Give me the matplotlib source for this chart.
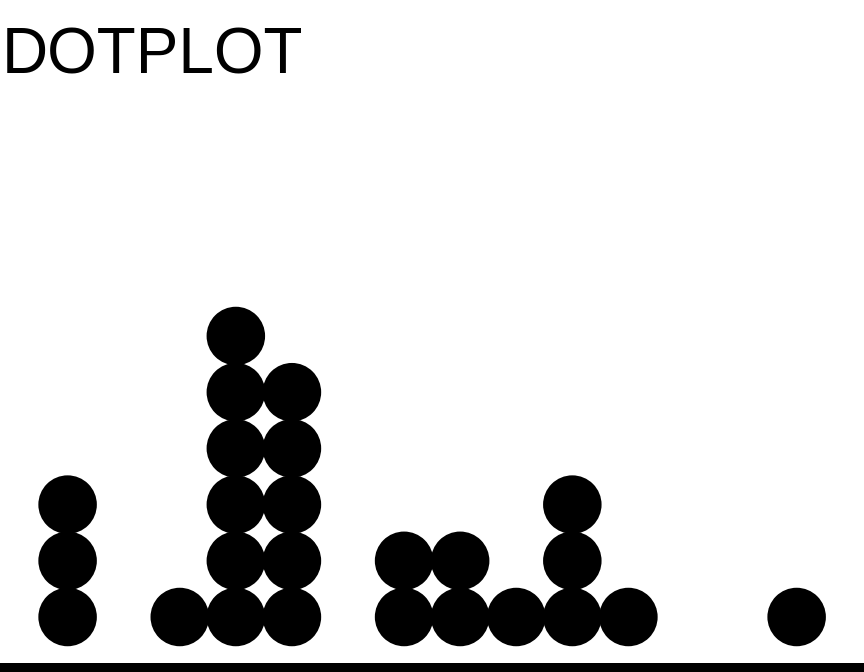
import matplotlib
matplotlib.use("Agg")
import matplotlib.pyplot as plt

# dot plot data: bin position and number of dots stacked in it
bins = [0, 2, 3, 4, 6, 7, 8, 9, 10, 13]
counts = [3, 1, 6, 5, 2, 2, 1, 3, 1, 1]

xs = []
ys = []
for b, c in zip(bins, counts):
    for k in range(1, c + 1):
        xs.append(b)
        ys.append(k)

fig = plt.figure(figsize=(8.64, 6.72), dpi=100)
ax = fig.add_axes([0, 0, 1, 1])

xstep = 56.08  # pixels per bin
ystep = 56.2   # pixels per stacked dot
x0 = 67.6
y0 = 672 - 617
ax.set_xlim(-x0 / xstep, (864 - x0) / xstep)
ax.set_ylim(1 - y0 / ystep, 1 + (672 - y0) / ystep)

diam_pt = 58.5 * 72 / 100
ax.scatter(xs, ys, s=diam_pt ** 2, c="black", edgecolors="none", clip_on=False)

# thick baseline at the bottom
ax.plot([0, 1], [4.5 / 672, 4.5 / 672], transform=ax.transAxes,
        color="black", linewidth=10 * 72 / 100, solid_capstyle="butt", clip_on=False)

ax.axis("off")

fig.text(0.002, 1 - 73 / 672, "DOTPLOT", fontsize=46, family=["Liberation Sans", "DejaVu Sans"],
         va="baseline", ha="left")

fig.savefig("out.png", dpi=100)
